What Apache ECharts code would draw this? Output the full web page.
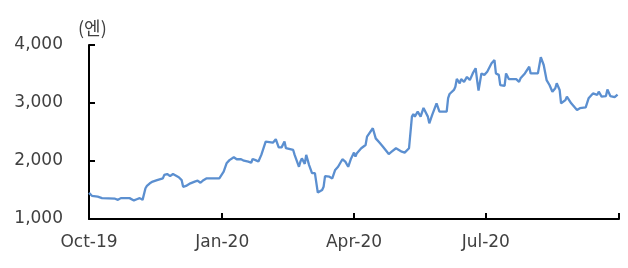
<!DOCTYPE html>
<html>
<head>
<meta charset="utf-8">
<script src="https://cdn.jsdelivr.net/npm/echarts@6/dist/echarts.min.js"></script>
<style>html,body{margin:0;padding:0;background:#fff}#c{width:628px;height:268px}</style>
</head>
<body>
<div id="c"></div>
<script>
// days since 2019-10-01
const days = [0,2,6,9,18,20,22,28,31,33,35,37,38,39,40,42,44,47,51,52,54,56,58,59,62,64,65,67,70,73,75,77,79,81,88,90,
  93,95,97,100,102,105,107,110,112,113,115,117,119,122,123,127,129,131,133,135,136,141,142,145,146,147,149,150,152,154,155,156,158,161,162,163,166,168,170,172,175,177,179,181,
  183,184,185,188,191,192,193,196,198,199,201,203,207,209,212,216,218,221,222,223,224,225,227,229,231,232,234,235,237,240,241,242,247,248,249,252,253,254,256,257,259,261,263,265,267,268,269,271,
  273,275,278,280,281,283,284,287,288,290,295,297,298,301,304,305,310,311,312,314,316,318,320,322,323,325,326,329,330,333,337,339,343,345,348,351,352,354,357,358,360,363,365];
// price (JPY)
const prices = [1450,1400,1385,1360,1350,1330,1360,1360,1320,1340,1360,1330,1330,1530,1570,1615,1645,1670,1700,1760,1775,1740,1775,1760,1720,1670,1555,1570,1615,1645,1660,1625,1670,1700,1700,1700,
  1815,1960,2015,2065,2030,2030,2005,1990,1970,2035,2015,1990,2105,2335,2305,2315,2375,2235,2235,2335,2220,2190,2105,1900,1990,2045,1950,2105,1930,1790,1815,1790,1455,1500,1555,1740,1730,1700,1845,1900,2030,1990,1900,2045,
  2145,2075,2135,2220,2275,2420,2390,2565,2390,2360,2305,2245,2120,2160,2220,2160,2145,2220,2245,2765,2810,2765,2850,2765,2915,2935,2765,2650,2795,2995,2995,2850,2850,3085,3155,3225,3280,3415,3340,3410,3365,3450,3395,3510,3600,3395,3215,3510,
  3485,3540,3685,3740,3510,3485,3310,3295,3510,3410,3410,3365,3425,3510,3625,3510,3510,3485,3790,3655,3395,3310,3195,3255,3340,3225,2995,3050,3110,2995,2880,2910,2925,3080,3165,3140,3195,3110,3120,3235,3120,3100,3145];
const tickDays = [0, 92, 183, 274, 366];
const tickLabels = ['Oct-19', 'Jan-20', 'Apr-20', 'Jul-20', ''];
const yTicks = [1000, 2000, 3000, 4000];
const unitLabel = '(엔)';

const data = days.map((d, i) => [d, prices[i]]);
const chart = echarts.init(document.getElementById('c'), null, {renderer: 'canvas'});
const font = '"DejaVu Sans", sans-serif';
chart.setOption({
  animation: false,
  title: {
    text: unitLabel, left: 78, top: 19, padding: 0,
    textStyle: {fontFamily: '"Noto Sans CJK KR", sans-serif', fontSize: 18, fontWeight: 'normal', color: '#404040'}
  },
  grid: {left: 89, right: 9, top: 45, bottom: 49},
  xAxis: {
    type: 'value', min: 0, max: 366,
    axisLine: {lineStyle: {color: '#000', width: 2}},
    axisTick: {inside: true, length: 6, customValues: tickDays, lineStyle: {color: '#000', width: 2}},
    axisLabel: {
      customValues: tickDays.slice(0, 4),
      formatter: v => tickLabels[tickDays.indexOf(v)] || '',
      fontFamily: font, fontSize: 17, color: '#404040', margin: 15
    },
    splitLine: {show: false}
  },
  yAxis: {
    type: 'value', min: yTicks[0], max: yTicks[yTicks.length - 1], interval: 1000,
    axisLine: {show: true, lineStyle: {color: '#000', width: 2}},
    axisTick: {show: true, inside: true, length: 6, lineStyle: {color: '#000', width: 2}},
    axisLabel: {
      formatter: v => v.toLocaleString('en-US'),
      fontFamily: font, fontSize: 17, color: '#404040', margin: 26
    },
    splitLine: {show: false}
  },
  series: [{
    type: 'line', data: data, showSymbol: false,
    lineStyle: {color: '#5B8FD0', width: 2.3},
    itemStyle: {color: '#5B8FD0'}
  }]
});
</script>
</body>
</html>
